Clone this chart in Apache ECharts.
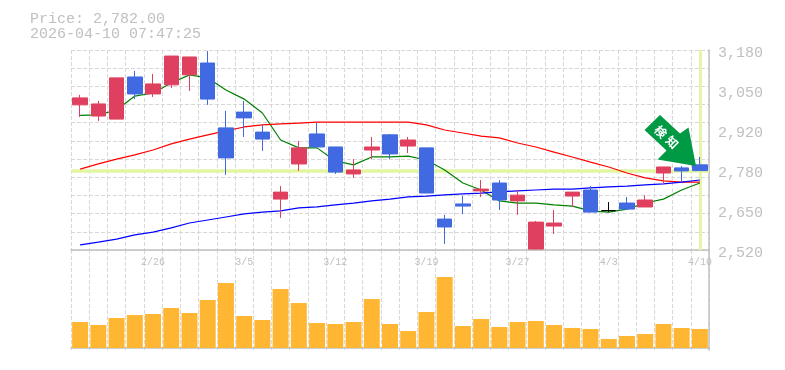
<!DOCTYPE html>
<html>
<head>
<meta charset="utf-8">
<style>html,body{margin:0;padding:0;background:#fff}#box{width:785px;height:370px}</style>
<script src="https://cdn.jsdelivr.net/npm/echarts@6/dist/echarts.min.js"></script>
</head>
<body>
<div id="box"></div>
<script>
var categories = ['2/19','2/20','2/24','2/25','2/26','2/27','3/2','3/3','3/4','3/5','3/6','3/9','3/10','3/11','3/12','3/13','3/16','3/17','3/18','3/19','3/23','3/24','3/25','3/26','3/27','3/30','3/31','4/1','4/2','4/3','4/6','4/7','4/8','4/9','4/10'];
var openPrices = [2999,2962,2952,3091,3035,3065,3098,3137,2923,2975,2909,2688,2804,2903,2860,2771,2850,2900,2863,2857,2622,2672,2715,2741,2682,2523,2599,2698,2718,2650,2675,2662,2774,2791,2801];
var closePrices = [3022,3002,3088,3035,3068,3160,3157,3018,2824,2956,2886,2711,2857,2860,2777,2784,2860,2837,2883,2708,2596,2665,2721,2685,2701,2612,2609,2711,2645,2650,2655,2685,2794,2781,2782];
var lowPrices = [2959,2946,2952,3018,3025,3055,3045,2999,2768,2893,2847,2626,2781,2860,2771,2758,2820,2820,2840,2708,2540,2639,2695,2652,2636,2523,2573,2662,2645,2645,2655,2662,2738,2744,2782];
var highPrices = [3032,3012,3088,3111,3101,3160,3157,3177,2979,3012,2933,2731,2880,2939,2860,2820,2893,2903,2893,2857,2636,2698,2751,2751,2718,2616,2652,2711,2731,2678,2695,2701,2794,2797,2827];
var shortMa = [2964,2966,2982,3028,3038,3071,3098,3088,3048,3018,2972,2883,2857,2857,2814,2801,2827,2827,2830,2817,2784,2741,2718,2682,2675,2675,2669,2665,2649,2645,2655,2675,2688,2718,2741];
var midMa = [2787,2804,2820,2834,2850,2870,2886,2900,2913,2926,2933,2936,2939,2942,2942,2942,2942,2942,2942,2933,2916,2906,2896,2890,2873,2860,2843,2827,2810,2794,2774,2758,2748,2744,2744];
var longMa = [2537,2546,2556,2570,2579,2593,2609,2619,2629,2639,2645,2649,2659,2662,2669,2675,2682,2688,2695,2698,2702,2705,2708,2712,2715,2718,2721,2721,2725,2728,2731,2735,2738,2744,2751];
var volumes = [26000,23000,30000,33000,34000,40000,35000,48000,65000,32000,28000,59000,45000,25000,24000,26000,49000,24000,17000,36000,71000,22000,29000,21000,26000,27000,23000,20000,19000,9000,12000,14000,24000,20000,19000];
var priceTicks = { 2520: '2,520', 2652: '2,650', 2784: '2,780', 2916: '2,920', 3048: '3,050', 3180: '3,180' };
var lastPrice = 2782;
var titleLines = ['Price: 2,782.00', '2026-04-10 07:47:25'];

var upColor = '#e0405f', downColor = '#4169e1', frameColor = '#c0c0c0', gridColor = '#d8d8d8', markColor = '#e4f5a8';
var monoFont = '"Liberation Mono", monospace';

var candles = categories.map(function (c, i) {
    var item = { value: [openPrices[i], closePrices[i], lowPrices[i], highPrices[i]] };
    // 同値の足だけ黒
    if (openPrices[i] === closePrices[i]) {
        item.itemStyle = { color: '#000', color0: '#000', borderColor: '#000', borderColor0: '#000', borderColorDoji: '#000' };
    }
    return item;
});

function maLine(name, data, color) {
    return {
        name: name, type: 'line', data: data, xAxisIndex: 0, yAxisIndex: 0, z: 3,
        symbol: 'none', silent: true, lineStyle: { color: color, width: 1.2 }
    };
}

var splitX = { show: true, interval: 0, lineStyle: { color: gridColor, type: [4, 2], width: 1 } };

var myChart = echarts.init(document.getElementById('box'), null, { renderer: 'canvas' });
myChart.setOption({
    animation: false,
    backgroundColor: '#fff',
    title: {
        text: titleLines.join('\n'), left: 30, top: 12, padding: 0,
        textStyle: { color: frameColor, fontFamily: monoFont, fontSize: 15, fontWeight: 'normal', lineHeight: 15 }
    },
    grid: [
        { left: 71, width: 638, top: 50, height: 200 },
        { left: 71, width: 638, top: 250, height: 100 }
    ],
    xAxis: [{
        type: 'category', gridIndex: 0, data: categories, boundaryGap: true,
        axisTick: { show: false }, axisLine: { lineStyle: { color: frameColor, width: 1.5 } },
        splitLine: splitX,
        axisLabel: {
            color: frameColor, fontFamily: monoFont, fontSize: 10, margin: 7,
            interval: function (i) { return i % 5 === 4; }
        }
    }, {
        type: 'category', gridIndex: 1, data: categories, boundaryGap: true,
        axisTick: { show: false }, axisLabel: { show: false },
        axisLine: { lineStyle: { color: frameColor, width: 1.5 } },
        splitLine: splitX
    }],
    yAxis: [{
        type: 'value', gridIndex: 0, position: 'right', min: 2520, max: 3180, interval: 60,
        axisLine: { show: true, lineStyle: { color: frameColor, width: 1.5 } },
        axisTick: { show: false }, axisLabel: { show: false },
        splitLine: { show: true, lineStyle: { color: gridColor, type: [4, 2], width: 1 } }
    }, {
        type: 'value', gridIndex: 0, position: 'right', min: 2520, max: 3180, interval: 132,
        axisLine: { show: false }, axisTick: { show: false }, splitLine: { show: false },
        axisLabel: {
            color: frameColor, fontFamily: monoFont, fontSize: 15, margin: 9, verticalAlign: 'top', lineHeight: 6,
            formatter: function (v) { return priceTicks[v]; }
        }
    }, {
        type: 'value', gridIndex: 1, position: 'right', min: -2000, max: 98000,
        axisLine: { show: true, lineStyle: { color: frameColor, width: 1.5 } },
        axisTick: { show: false }, axisLabel: { show: false }, splitLine: { show: false }
    }],
    series: [
        maLine('short', shortMa, '#008000'),
        maLine('mid', midMa, '#ff0000'),
        maLine('long', longMa, '#0000ff'),
        {
            name: 'price', type: 'candlestick', xAxisIndex: 0, yAxisIndex: 0, data: candles, barWidth: 15, z: 4,
            itemStyle: { color: upColor, color0: downColor, borderColor: upColor, borderColor0: downColor, borderWidth: 1 },
            markLine: {
                silent: true, symbol: 'none', z: 2, animation: false,
                label: { show: false },
                lineStyle: { color: markColor, width: 3, type: 'solid', opacity: 1 },
                data: [
                    { yAxis: lastPrice, lineStyle: { color: '#e2f5a0', width: 3.5, type: 'solid', opacity: 1 } },
                    { xAxis: categories[categories.length - 1] }
                ]
            }
        },
        {
            name: 'volume', type: 'bar', xAxisIndex: 1, yAxisIndex: 2, data: volumes, barWidth: 16,
            itemStyle: { color: '#ffb733' }
        }
    ],
    graphic: [{
        type: 'polygon', z: 100,
        shape: { points: [[660, 115], [680, 133.5], [688.5, 127.5], [696, 166], [657.5, 159.5], [666.5, 150.5], [644.5, 130]] },
        style: { fill: '#009944' }
    }, {
        type: 'text', z: 101, x: 660.7, y: 131.7, rotation: -Math.PI / 4,
        style: { text: '検', fill: '#fff', font: 'bold 12px "Noto Sans CJK JP"', align: 'center', verticalAlign: 'middle' }
    }, {
        type: 'text', z: 101, x: 672.3, y: 142.3, rotation: -Math.PI / 4,
        style: { text: '知', fill: '#fff', font: 'bold 12px "Noto Sans CJK JP"', align: 'center', verticalAlign: 'middle' }
    }]
});
</script>
</body>
</html>
